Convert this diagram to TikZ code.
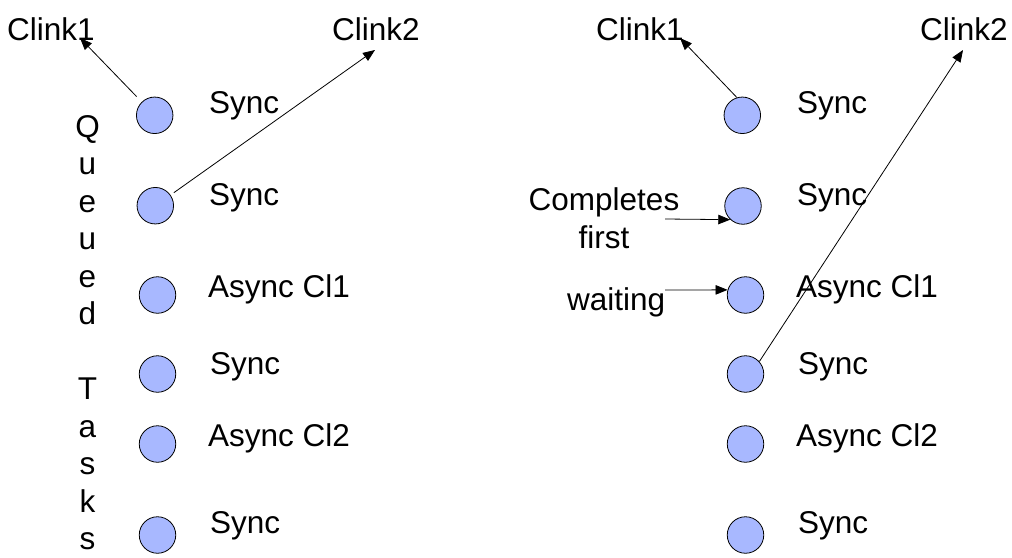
\documentclass[tikz,border=0pt]{standalone}
\usepackage{fontspec}
\setmainfont{Liberation Sans}
\usetikzlibrary{arrows.meta}
\definecolor{ballfill}{RGB}{168,184,255}
\begin{document}
\begin{tikzpicture}[x=1pt,y=-1pt,
  ball/.style={circle,draw=black,line width=0.8pt,fill=ballfill,minimum size=36.5pt,inner sep=0pt},
  lbl/.style={inner sep=0pt,anchor=base west,font=\fontsize{31.5}{38}\selectfont},
  letter/.style={inner sep=0pt,anchor=base,font=\fontsize{31.5}{38}\selectfont},
  arr/.style={line width=0.8pt,-{Triangle[length=12pt,width=9.5pt]}}]
\useasboundingbox (0,0) rectangle (1012,557);
% left column
\node[ball] (L1) at (154.7,115.3) {};
\node[ball] (L2) at (155.3,205.7) {};
\node[ball] (L3) at (157.5,295) {};
\node[ball] (L4) at (157.5,374) {};
\node[ball] (L5) at (157.5,444) {};
\node[ball] (L6) at (157.5,535) {};
\node[lbl] (LS1) at (209,113) {Sync};
\node[lbl] (LS2) at (209,205) {Sync};
\node[lbl] (LS3) at (208,297) {Async Cl1};
\node[lbl] (LS4) at (210,374) {Sync};
\node[lbl] (LS5) at (208,446) {Async Cl2};
\node[lbl] (LS6) at (210,533) {Sync};
\node[lbl] (LC1) at (7,40) {Clink1};
\node[lbl] (LC2) at (332,40) {Clink2};
\foreach \l/\i in {Q/0,u/1,e/2,u/3,e/4,d/5,T/7,a/8,s/9,k/10,s/11}
  \node[letter] (q\i) at (87.5,137+37.5*\i) {\l};
\coordinate (lt1) at (80,38);
\coordinate (lt2) at (375,50);
\draw[arr,shorten <=7.5pt] (L1.134) -- (lt1);
\draw[arr,shorten <=4pt] (L2.35) -- (lt2);
% right column
\node[ball] (R1) at (742.3,115.3) {};
\node[ball] (R2) at (743,206) {};
\node[ball] (R3) at (745.5,295) {};
\node[ball] (R4) at (745.5,374) {};
\node[ball] (R5) at (745.5,444) {};
\node[ball] (R6) at (745.5,535) {};
\node[lbl] (RS1) at (797,113) {Sync};
\node[lbl] (RS2) at (797,205) {Sync};
\node[lbl] (RS3) at (796,297) {Async Cl1};
\node[lbl] (RS4) at (798,374) {Sync};
\node[lbl] (RS5) at (796,446) {Async Cl2};
\node[lbl] (RS6) at (798,533) {Sync};
\node[lbl] (RC1) at (596,40) {Clink1};
\node[lbl] (RC2) at (920,40) {Clink2};
\node[inner sep=0pt,align=center,anchor=north,font=\fontsize{31.5}{38}\selectfont] (comp) at (604,187) {Completes\\first};
\node[lbl] (wait) at (567,310) {waiting};
\coordinate (rt1) at (680,38);
\coordinate (rt2) at (963,50);
\coordinate (cs) at (665,219);
\coordinate (ws) at (665,290);
\draw[arr] (R1.107) -- (rt1);
\draw[arr] (R4.42) -- (rt2);
\draw[arr] (cs) -- (R2.227);
\draw[arr] (ws) -- (R3.164);
\end{tikzpicture}
\end{document}
